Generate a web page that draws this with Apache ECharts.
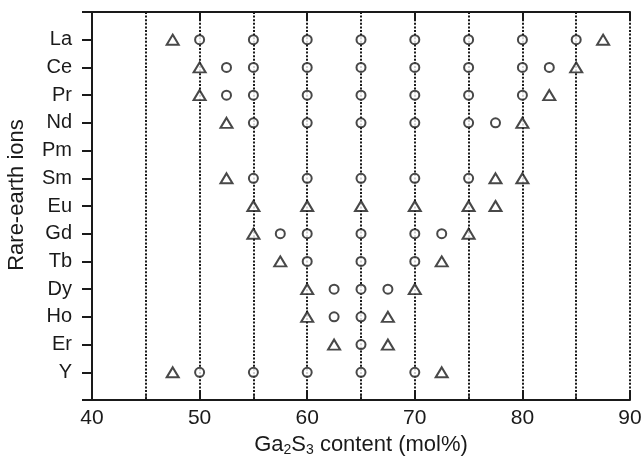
<!DOCTYPE html>
<html>
<head>
<meta charset="utf-8">
<script src="https://cdn.jsdelivr.net/npm/echarts@6/dist/echarts.min.js"></script>
<style>html,body{margin:0;padding:0;background:#fff}#c{width:643px;height:460px}</style>
</head>
<body>
<div id="c"></div>
<script>
const elements = ['La','Ce','Pr','Nd','Pm','Sm','Eu','Gd','Tb','Dy','Ho','Er','Y'];
// Ga2S3 content (mol%) of circle marks, one row per element (same order)
const circleRows = [
  [50,55,60,65,70,75,80,85],
  [52.5,55,60,65,70,75,80,82.5],
  [52.5,55,60,65,70,75,80],
  [55,60,65,70,75,77.5],
  [],
  [55,60,65,70,75],
  [],
  [57.5,60,65,70,72.5],
  [60,65,70],
  [62.5,65,67.5],
  [62.5,65],
  [65],
  [50,55,60,65,70]
];
// Ga2S3 content (mol%) of triangle marks
const triangleRows = [
  [47.5,87.5],
  [50,85],
  [50,82.5],
  [52.5,80],
  [],
  [52.5,77.5,80],
  [55,60,65,70,75,77.5],
  [55,75],
  [57.5,72.5],
  [60,70],
  [60,67.5],
  [62.5,67.5],
  [47.5,72.5]
];
const xMin = 40, xMax = 90;

function toPoints(rows){
  const pts = [];
  rows.forEach((row,i)=>row.forEach(x=>pts.push([x, elements.length-1-i])));
  return pts;
}

const font = 'Liberation Sans, Arial, sans-serif';
const ink = '#1a1a1a';
const dotted = {color:ink, width:2, type:[2,1.6]};
const chart = echarts.init(document.getElementById('c'));
chart.setOption({
  animation:false,
  backgroundColor:'#fff',
  grid:{left:92,right:13,top:12,bottom:60,outerBoundsMode:'none',containLabel:false},
  xAxis:[{
    type:'value', position:'bottom', min:xMin, max:xMax, interval:10,
    axisLine:{onZero:false,lineStyle:{color:ink,width:2}},
    axisTick:{inside:true,length:9,lineStyle:{color:ink,width:2}},
    minorTick:{show:true,splitNumber:2,length:5,lineStyle:{color:ink,width:1.5}},
    splitLine:{show:false},
    axisLabel:{color:ink,fontSize:21,fontFamily:font,margin:8},
    name:'{n|Ga}{s|2}{n|S}{s|3}{n| content (mol%)}',
    nameLocation:'middle', nameGap:30,
    nameTextStyle:{rich:{n:{fontSize:22,fontFamily:font,color:ink},s:{fontSize:14,fontFamily:font,color:ink,verticalAlign:'bottom',padding:[10,0,0,0]}}}
  },{
    type:'value', position:'top', min:xMin, max:xMax, interval:10,
    axisLine:{show:true,onZero:false,lineStyle:{color:ink,width:2}},
    axisTick:{inside:true,length:9,lineStyle:{color:ink,width:2}},
    axisLabel:{show:false},
    splitLine:{show:true,lineStyle:dotted},
    minorTick:{show:false,splitNumber:2},
    minorSplitLine:{show:true,lineStyle:dotted}
  }],
  yAxis:{
    type:'value', min:-1, max:elements.length, interval:1,
    axisLine:{show:true,onZero:false,lineStyle:{color:ink,width:2}},
    axisTick:{show:true,inside:false,length:10,lineStyle:{color:ink,width:2}},
    splitLine:{show:false},
    axisLabel:{color:ink,fontSize:20,fontFamily:font,margin:20,
      formatter:v=> (v>=0 && v<elements.length) ? elements[elements.length-1-v] : ''},
    name:'Rare-earth ions', nameLocation:'middle', nameGap:64,
    nameTextStyle:{fontSize:22,fontFamily:font,color:ink,padding:[0,0,0,22]}
  },
  series:[{
    type:'scatter', data:toPoints(circleRows), symbol:'circle', symbolSize:9,
    itemStyle:{color:'#fff',borderColor:ink,borderWidth:2}, z:5
  },{
    type:'scatter', data:toPoints(triangleRows), symbol:'triangle', symbolSize:[12,10],
    itemStyle:{color:'#fff',borderColor:ink,borderWidth:2}, z:5
  }]
});
</script>
</body>
</html>
